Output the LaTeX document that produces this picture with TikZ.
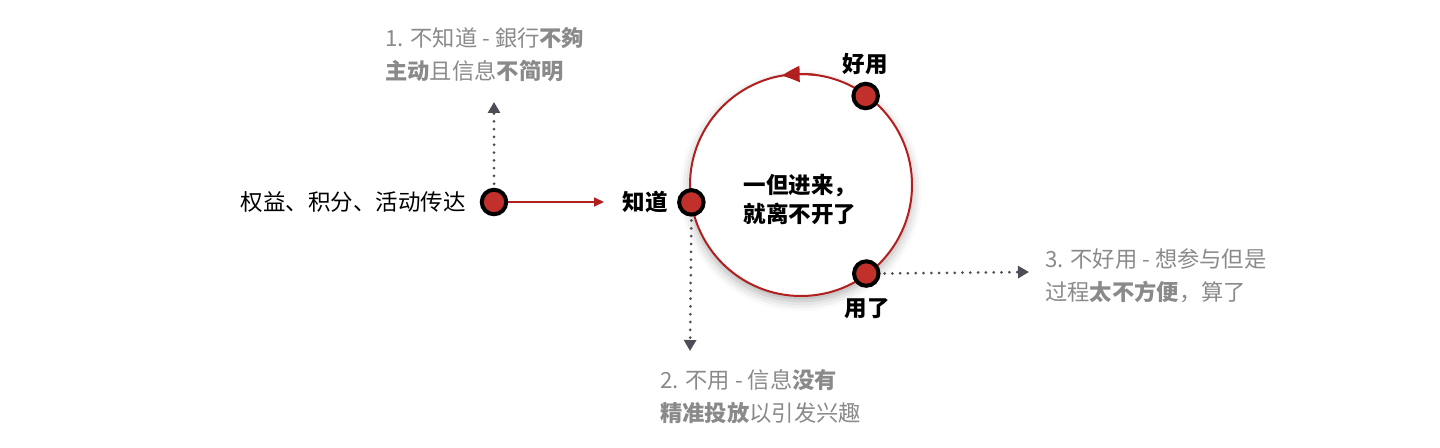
\documentclass[tikz,border=0pt]{standalone}
\usepackage{fontspec}
\setmainfont{Noto Sans CJK SC}
\usetikzlibrary{arrows.meta,shadows.blur,bending}
\definecolor{cred}{HTML}{B21F1F}
\definecolor{dred}{HTML}{C1302B}
\definecolor{agray}{HTML}{4D4D57}
\definecolor{tgray}{HTML}{8A8A8A}
\begin{document}
\begin{tikzpicture}[x=1pt,y=1pt,
  dot/.style={circle,draw=black,line width=4pt,fill=dred,minimum size=24.5pt,inner sep=0pt},
  ring/.style={circle,draw=cred,line width=2pt,fill=white,minimum size=222pt,inner sep=0pt,
    blur shadow={shadow xshift=0pt,shadow yshift=-5pt,shadow blur radius=10pt,shadow opacity=32}},
  lbl/.style={font=\fontsize{22.5}{29}\selectfont,text=black,inner sep=0pt},
  blbl/.style={lbl,font=\fontsize{22.5}{29}\selectfont\bfseries},
  note/.style={font=\fontsize{22.3}{33}\selectfont,text=tgray,align=left,inner sep=0pt,anchor=west},
  dotline/.style={draw=agray,line width=3pt,dash pattern=on 0pt off 7.8pt,line cap=round,
    -{Triangle[length=11pt,width=12pt,line cap=butt]}},
  redarrow/.style={draw=cred,line width=1.6pt,-{Triangle[length=10pt,width=9pt]}}
]
\useasboundingbox (0,0) rectangle (1440,447);

% ring
\node[ring] (C) at (801,262) {};
\draw[cred,line width=2pt,-{Triangle[length=18pt,width=16pt,bend]}] (C.center) ++(82:111) arc[start angle=82,end angle=100,radius=111];
\node[blbl,align=center] (mid) at (800,248) {一但进来，\\就离不开了};

% dots
\path (C.center) ++(189:111) node[dot] (K) {};
\path (C.center) ++(54:110) node[dot] (H) {};
\path (C.center) ++(-53.6:110) node[dot] (Y) {};
\node[dot] (L) at (494,245) {};

% dot labels
\node[blbl,anchor=east] (tK) at (668,245) {知道};
\node[blbl] (tH) at (865,383) {好用};
\node[blbl] (tY) at (867,138) {用了};
\node[lbl,anchor=east] (tL) at (466,245) {权益、积分、活动传达};

% connectors
\coordinate (rEnd) at (604,245);
\draw[redarrow] (L.east) -- (rEnd);
\coordinate (uEnd) at (494,345);
\draw[dotline] (L.north) ++(0,4) -- (uEnd);
\coordinate (dEnd) at (690,96);
\draw[dotline] (K.south) ++(0,-4) -- (dEnd);
\coordinate (hEnd) at (1029,175);
\draw[dotline] (Y.east) ++(4,0) -- (hEnd);

% notes
\node[note] (n1) at (385,392) {1. 不知道 - 銀行\textbf{不夠}\\\textbf{主动}且信息\textbf{不简明}};
\node[note] (n2) at (660,50) {2. 不用 - 信息\textbf{没有}\\\textbf{精准投放}以引发兴趣};
\node[note] (n3) at (1045,171) {3. 不好用 - 想参与但是\\过程\textbf{太不方便}，算了};
\end{tikzpicture}
\end{document}
